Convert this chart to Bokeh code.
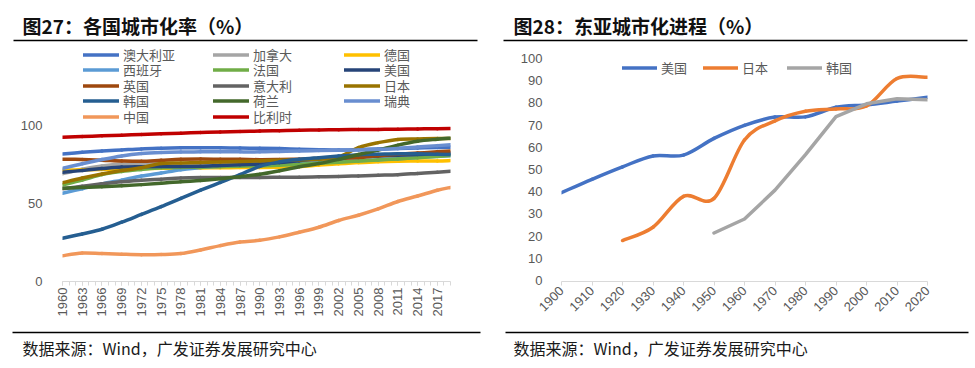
import math
from bokeh.plotting import figure
from bokeh.layouts import row, column
from bokeh.models import (Range1d, FixedTicker, Legend, LegendItem)
from bokeh.core.properties import value
from bokeh.embed import file_html
from bokeh.resources import INLINE

# ---------------- data: left chart ----------------
years_l = [1960, 1963, 1966, 1969, 1972, 1975, 1978, 1981, 1984, 1987, 1990,
           1993, 1996, 1999, 2002, 2005, 2008, 2011, 2014, 2017, 2019]
tick_years_l = list(range(1960, 2018, 3))
all_years_l = list(range(1960, 2020))

australia = [81.8, 82.8, 83.6, 84.3, 85.0, 85.4, 85.7, 85.8, 85.7, 85.5, 85.4, 85.2, 84.8, 84.5, 84.3, 84.6, 85.0, 85.3, 85.6, 85.9, 86.1]
canada = [69.1, 72.0, 74.0, 75.3, 75.7, 75.6, 75.7, 75.7, 76.3, 76.5, 76.6, 77.3, 77.8, 79.3, 79.6, 80.1, 80.5, 81.0, 81.2, 81.4, 81.5]
germany = [71.4, 71.6, 71.8, 72.2, 72.4, 72.6, 72.7, 72.8, 72.9, 73.0, 73.1, 73.3, 73.7, 74.6, 75.4, 76.2, 76.8, 77.1, 77.2, 77.3, 77.5]
spain = [56.6, 59.5, 62.5, 65.0, 67.6, 69.6, 71.6, 73.1, 73.8, 74.6, 75.4, 75.8, 76.1, 76.3, 76.9, 77.4, 78.0, 78.7, 79.5, 80.3, 80.6]
france = [61.9, 65.0, 68.5, 70.5, 71.8, 72.9, 73.1, 73.3, 73.6, 73.9, 74.1, 74.5, 75.1, 75.8, 76.5, 77.2, 77.9, 78.6, 79.4, 80.2, 80.7]
usa_l = [70.0, 71.2, 72.4, 73.4, 73.6, 73.7, 73.7, 73.8, 74.4, 74.9, 75.3, 76.2, 77.4, 78.8, 79.4, 79.9, 80.5, 80.9, 81.4, 82.1, 82.4]
uk = [78.4, 78.2, 77.8, 77.3, 77.1, 77.7, 78.3, 78.5, 78.4, 78.3, 78.1, 78.2, 78.4, 78.6, 78.9, 79.5, 80.6, 81.6, 82.3, 83.1, 83.7]
italy = [59.4, 61.0, 62.6, 64.0, 64.9, 65.6, 66.3, 66.6, 66.7, 66.7, 66.7, 66.8, 66.9, 67.1, 67.3, 67.7, 68.1, 68.5, 69.3, 70.1, 70.7]
japan_l = [63.3, 66.3, 68.9, 71.1, 72.9, 75.7, 76.0, 76.3, 76.6, 77.0, 77.3, 77.7, 78.0, 78.4, 80.0, 85.8, 89.0, 91.1, 91.4, 91.6, 91.7]
korea_l = [27.7, 30.5, 33.5, 38.0, 43.0, 48.0, 53.3, 58.5, 63.5, 68.5, 73.8, 76.7, 78.3, 79.4, 80.4, 81.3, 81.6, 81.9, 81.9, 81.5, 81.4]
netherlands = [59.8, 60.3, 60.8, 61.4, 62.1, 63.0, 64.0, 64.7, 65.8, 67.2, 68.7, 71.0, 73.6, 75.6, 78.3, 81.4, 84.3, 87.4, 89.9, 91.2, 91.9]
sweden = [72.5, 75.5, 78.2, 80.5, 82.0, 82.7, 83.0, 83.1, 83.2, 83.1, 83.1, 83.4, 83.7, 83.9, 84.1, 84.3, 84.7, 85.3, 86.2, 87.1, 87.7]
china = [16.5, 18.3, 17.9, 17.5, 17.2, 17.3, 17.9, 20.2, 23.0, 25.3, 26.4, 28.6, 31.6, 34.8, 39.1, 42.5, 46.5, 51.3, 54.8, 58.5, 60.3]
belgium = [92.5, 92.9, 93.4, 93.8, 94.3, 94.7, 95.1, 95.5, 95.9, 96.2, 96.4, 96.7, 97.0, 97.1, 97.3, 97.4, 97.5, 97.6, 97.8, 97.9, 98.0]

names_l = ["澳大利亚", "加拿大", "德国", "西班牙", "法国", "美国", "英国", "意大利",
           "日本", "韩国", "荷兰", "瑞典", "中国", "比利时"]
series_l = [australia, canada, germany, spain, france, usa_l, uk, italy,
            japan_l, korea_l, netherlands, sweden, china, belgium]
colors_l = ["#4472C4", "#A5A5A5", "#FFC000", "#5B9BD5", "#70AD47", "#264478", "#9E480E",
            "#636363", "#997300", "#255E91", "#43682B", "#698ED0", "#F1975A", "#C00000"]

# ---------------- data: right chart ----------------
usa_years = [1900, 1910, 1920, 1930, 1940, 1950, 1960, 1970, 1980, 1990, 2000, 2010, 2020]
usa_r = [39.6, 45.6, 51.2, 56.1, 56.5, 64.0, 69.9, 73.6, 73.7, 78.0, 79.1, 80.8, 82.5]
japan_years = [1920, 1930, 1940, 1950, 1960, 1970, 1980, 1990, 2000, 2010, 2020]
japan_r = [18.0, 24.0, 37.9, 37.0, 63.3, 71.9, 76.2, 77.3, 78.6, 91.0, 91.5]
korea_years = [1950, 1960, 1970, 1980, 1990, 2000, 2010, 2020]
korea_r = [21.4, 27.7, 40.7, 56.7, 73.8, 79.6, 81.9, 81.4]
names_r = ["美国", "日本", "韩国"]
colors_r = ["#4472C4", "#ED7D31", "#A5A5A5"]
ticks_r = list(range(1900, 2021, 10))
yticks_r = list(range(0, 101, 10))

titles = ["图27：各国城市化率（%）", "图28：东亚城市化进程（%）"]
source = "数据来源：Wind，广发证券发展研究中心"

TXT = "#595959"
AXC = "#D9D9D9"
HEAD = 42         # header band height (page px)
FOOT_TOP = 330    # footer band top (page px)
W, HALL = 975, 368
BOT = 281         # frame bottom (page px)
CJK = "Noto Sans CJK SC"
LAT = "Liberation Sans"


def smooth(p, xs, ys, color, width):
    n = len(xs)
    d = dict(x0=[], y0=[], x1=[], y1=[], cx0=[], cy0=[], cx1=[], cy1=[])
    for i in range(n - 1):
        xm, ym = (xs[i - 1], ys[i - 1]) if i > 0 else (xs[i], ys[i])
        xp, yp = (xs[i + 2], ys[i + 2]) if i + 2 < n else (xs[i + 1], ys[i + 1])
        d["x0"].append(xs[i]); d["y0"].append(ys[i])
        d["x1"].append(xs[i + 1]); d["y1"].append(ys[i + 1])
        d["cx0"].append(xs[i] + (xs[i + 1] - xm) / 6.0)
        d["cy0"].append(ys[i] + (ys[i + 1] - ym) / 6.0)
        d["cx1"].append(xs[i + 1] - (xp - xs[i]) / 6.0)
        d["cy1"].append(ys[i + 1] - (yp - ys[i]) / 6.0)
    return p.bezier(line_color=color, line_width=width, line_cap="round", **d)


def band(y0, y1):
    f = figure(width=W, height=y1 - y0, output_backend="svg", toolbar_location=None,
               x_range=Range1d(0, W), y_range=Range1d(y1, y0),
               x_axis_type=None, y_axis_type=None,
               min_border_left=0, min_border_right=0, min_border_top=0, min_border_bottom=0)
    f.outline_line_color = None
    return f


def style(p):
    p.outline_line_color = None
    p.xgrid.visible = False
    p.ygrid.visible = False


def one_legend(r, label, x, ycenter, gw):
    return Legend(items=[LegendItem(label=label, renderers=[r])],
                  location=(x, BOT - ycenter - 9.5), orientation="vertical",
                  glyph_width=gw, glyph_height=19, label_height=19, label_standoff=4,
                  spacing=0, padding=0, margin=0, border_line_color=None,
                  background_fill_alpha=0, label_text_font=CJK,
                  label_text_font_size="13px", label_text_color=TXT)


def axis_style(ax):
    ax.major_label_text_font = LAT
    ax.major_label_text_font_size = "13px"
    ax.major_label_text_color = TXT


# ---------------- header ----------------
head = band(0, HEAD)
head.text(x=[22, 513], y=[25, 25], text=titles, text_font=value(CJK),
          text_font_style="bold", text_font_size="19px", text_color="#111111",
          text_baseline="middle")
head.segment(x0=[13, 503], y0=[40, 40], x1=[477, 967], y1=[40, 40],
             line_color="black", line_width=1.5)

# ---------------- left figure ----------------
FL1 = 62
PH = FOOT_TOP - HEAD
ytop_l = (BOT - HEAD) / 1.56
p1 = figure(width=490, height=PH, output_backend="svg", toolbar_location=None,
            x_range=Range1d(1960, 2019), y_range=Range1d(0, ytop_l),
            min_border_left=FL1, min_border_right=40, min_border_top=0,
            min_border_bottom=FOOT_TOP - BOT)
style(p1)
rends = [smooth(p1, years_l, ys, c, 3.5) for ys, c in zip(series_l, colors_l)]

p1.yaxis.ticker = FixedTicker(ticks=[0, 50, 100])
p1.yaxis.axis_line_color = None
p1.yaxis.major_tick_line_color = None
p1.yaxis.minor_tick_line_color = None
p1.yaxis.major_label_standoff = 14
axis_style(p1.yaxis)

p1.xaxis.ticker = FixedTicker(ticks=tick_years_l, minor_ticks=all_years_l)
p1.xaxis.axis_line_color = AXC
p1.xaxis.major_tick_line_color = AXC
p1.xaxis.minor_tick_line_color = AXC
p1.xaxis.major_tick_out = 4
p1.xaxis.major_tick_in = 0
p1.xaxis.minor_tick_out = 4
p1.xaxis.minor_tick_in = 0
p1.xaxis.major_label_orientation = math.pi / 2
p1.xaxis.major_label_standoff = 2
axis_style(p1.xaxis)

col_x = [83, 213, 344]
for i, (nm, r) in enumerate(zip(names_l, rends)):
    rr, cc = divmod(i, 3)
    p1.add_layout(one_legend(r, nm, col_x[cc] - FL1, 54 + 15.5 * rr, 36), "center")

# ---------------- right figure ----------------
FL2 = 561
PX = 2.22
p2 = figure(width=485, height=PH, output_backend="svg", toolbar_location=None,
            x_range=Range1d(1900, 2020),
            y_range=Range1d((280 - BOT) / PX, (280 - HEAD) / PX),
            min_border_left=FL2 - 490, min_border_right=48, min_border_top=0,
            min_border_bottom=FOOT_TOP - BOT)
style(p2)
r_us = smooth(p2, usa_years, usa_r, colors_r[0], 3.5)
r_jp = smooth(p2, japan_years, japan_r, colors_r[1], 3.5)
r_kr = p2.line(korea_years, korea_r, line_color=colors_r[2], line_width=3.5,
               line_cap="round", line_join="round")

p2.yaxis.ticker = FixedTicker(ticks=yticks_r)
p2.yaxis.axis_line_color = None
p2.yaxis.major_tick_line_color = None
p2.yaxis.minor_tick_line_color = None
p2.yaxis.major_label_standoff = 13
axis_style(p2.yaxis)

p2.xaxis.ticker = FixedTicker(ticks=ticks_r)
p2.xaxis.axis_line_color = AXC
p2.xaxis.major_tick_line_color = AXC
p2.xaxis.minor_tick_line_color = None
p2.xaxis.major_tick_out = 4
p2.xaxis.major_tick_in = 0
p2.xaxis.major_label_orientation = math.pi / 4
p2.xaxis.major_label_standoff = 3
axis_style(p2.xaxis)

for nm, r, gx in zip(names_r, [r_us, r_jp, r_kr], [622, 703, 787]):
    p2.add_layout(one_legend(r, nm, gx - FL2, 67, 35), "center")

# ---------------- footer ----------------
foot = band(FOOT_TOP, HALL)
foot.segment(x0=[12, 505], y0=[332, 332], x1=[480, 968], y1=[332, 332],
             line_color="black", line_width=1.5)
foot.text(x=[22, 513], y=[347, 347], text=[source, source], text_font=value(CJK),
          text_font_size="16px", text_color="#1a1a1a", text_baseline="middle")

layout = column(head, row(p1, p2, spacing=0), foot, spacing=0)
open("out.html", "w").write(file_html(layout, INLINE))
